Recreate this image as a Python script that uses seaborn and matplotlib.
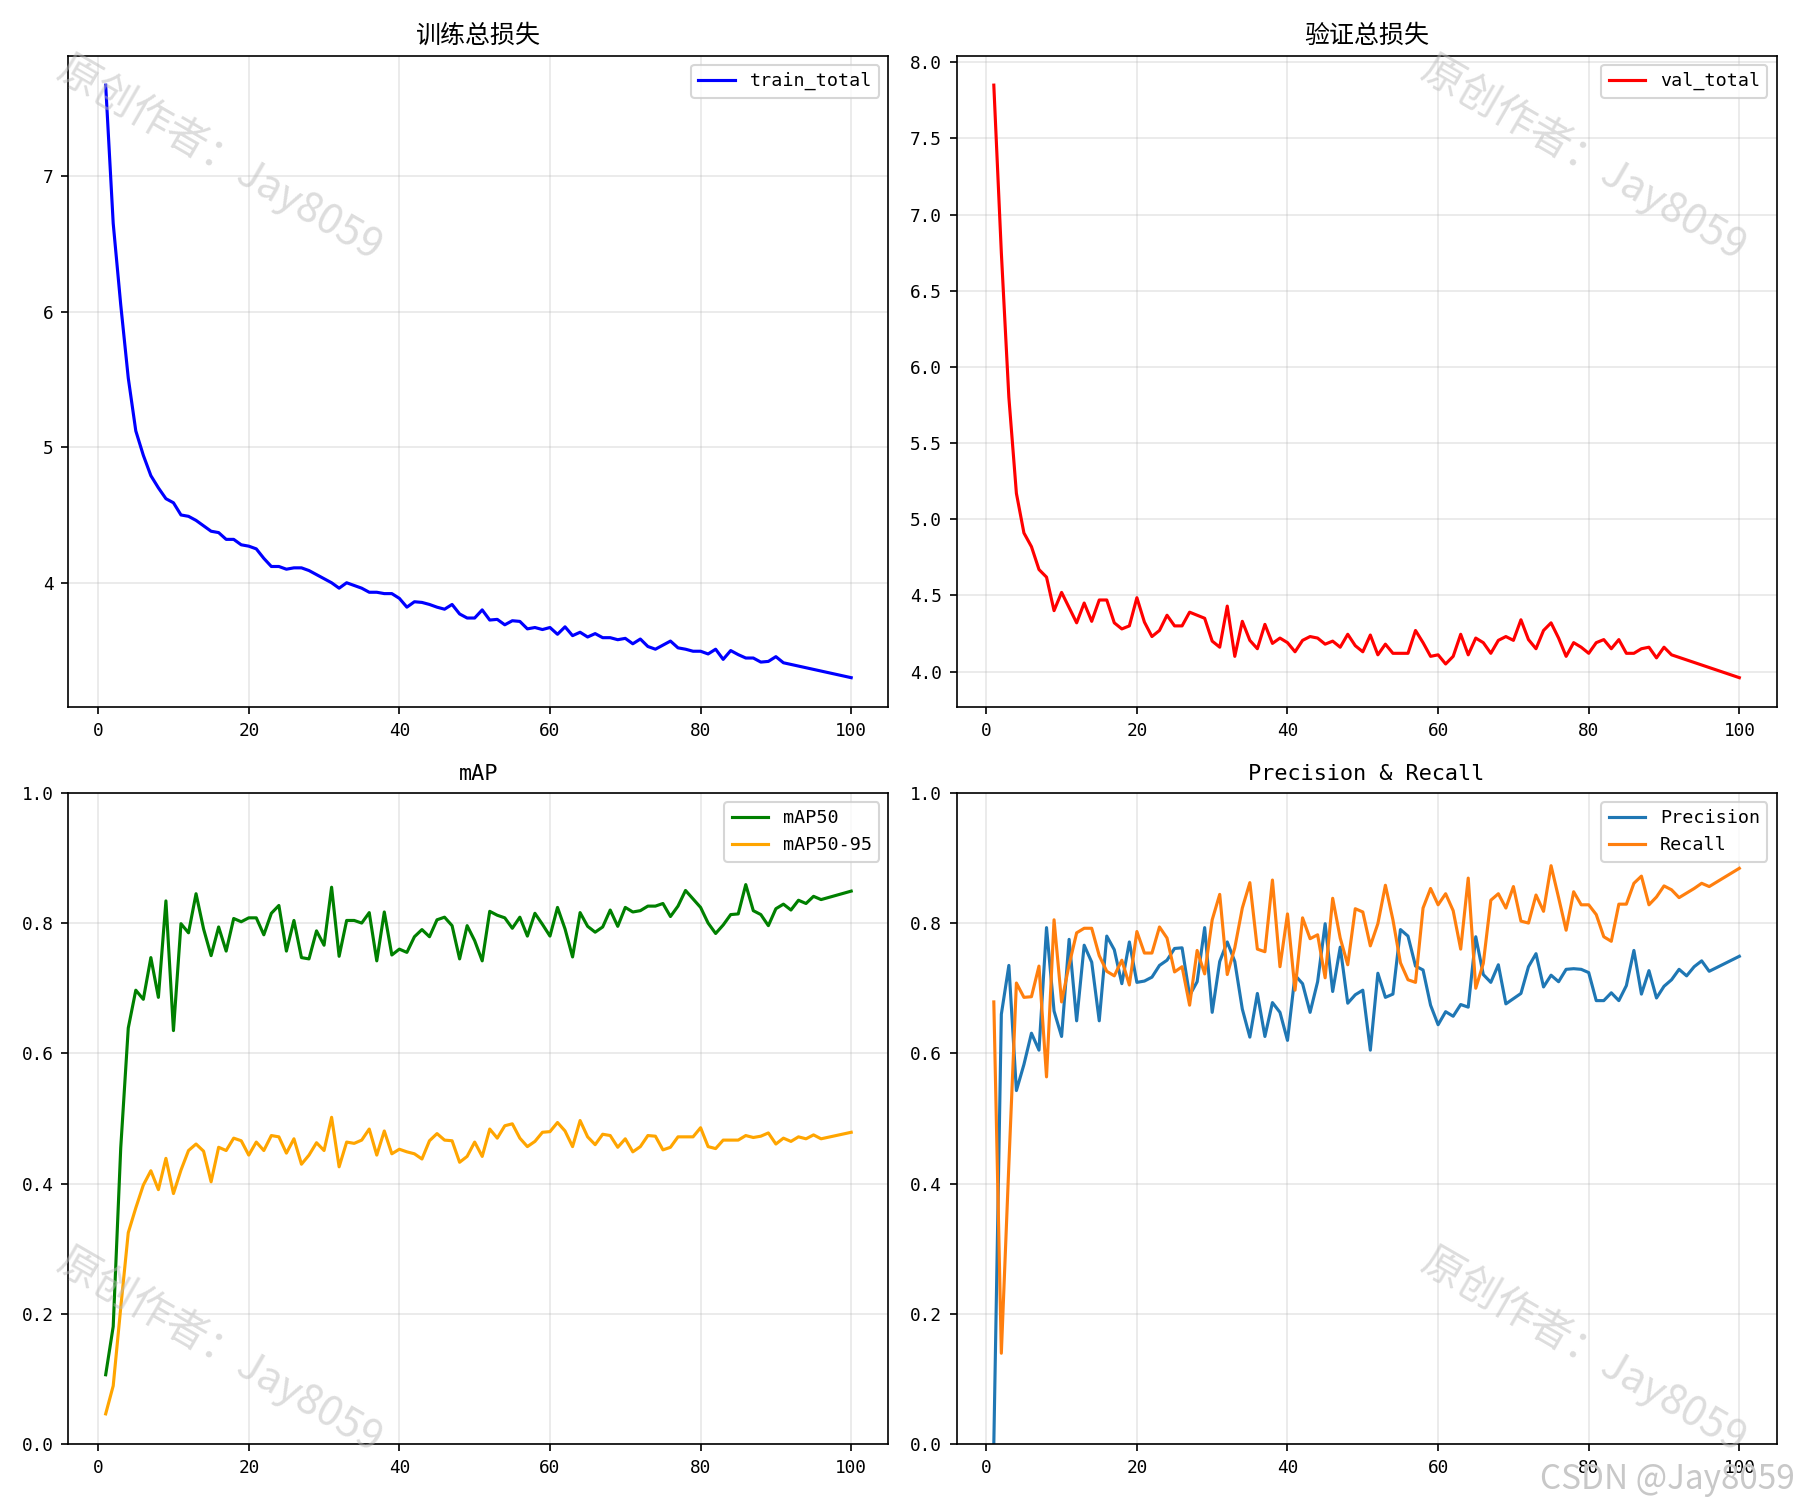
import matplotlib
matplotlib.use("Agg")
import matplotlib.pyplot as plt
import seaborn as sns

# == DATA ==
loss_epochs = list(range(1, 92)) + [100]
metric_epochs = list(range(1, 97)) + [100]

train_total = [
    7.67, 6.65, 6.05, 5.51, 5.12, 4.94, 4.79, 4.70, 4.62, 4.59,
    4.50, 4.49, 4.46, 4.42, 4.38, 4.37, 4.32, 4.32, 4.28, 4.27,
    4.25, 4.18, 4.12, 4.12, 4.10, 4.11, 4.11, 4.09, 4.06, 4.03,
    4.00, 3.96, 4.00, 3.98, 3.96, 3.93, 3.93, 3.92, 3.92, 3.885,
    3.82, 3.86, 3.855, 3.84, 3.82, 3.805, 3.84, 3.77, 3.74, 3.74,
    3.80, 3.725, 3.73, 3.69, 3.72, 3.715, 3.66, 3.67, 3.655, 3.67,
    3.62, 3.675, 3.61, 3.635, 3.60, 3.625, 3.595, 3.595, 3.58, 3.59,
    3.55, 3.585, 3.53, 3.51, 3.54, 3.57, 3.52, 3.51, 3.495, 3.495,
    3.475, 3.51, 3.435, 3.50, 3.47, 3.445, 3.445, 3.415, 3.42, 3.455,
    3.41, 3.30,
]

val_total = [
    7.85, 6.75, 5.80, 5.17, 4.91, 4.82, 4.67, 4.62, 4.40, 4.52,
    4.42, 4.32, 4.45, 4.33, 4.47, 4.47, 4.32, 4.28, 4.30, 4.485,
    4.325, 4.23, 4.27, 4.37, 4.30, 4.30, 4.39, 4.37, 4.35, 4.20,
    4.16, 4.43, 4.10, 4.33, 4.205, 4.15, 4.31, 4.185, 4.22, 4.19,
    4.13, 4.205, 4.23, 4.22, 4.18, 4.20, 4.16, 4.245, 4.17, 4.13,
    4.24, 4.11, 4.18, 4.12, 4.12, 4.12, 4.27, 4.19, 4.10, 4.11,
    4.05, 4.10, 4.245, 4.11, 4.22, 4.19, 4.12, 4.205, 4.23, 4.205,
    4.34, 4.21, 4.15, 4.27, 4.32, 4.22, 4.10, 4.19, 4.16, 4.12,
    4.19, 4.21, 4.15, 4.21, 4.12, 4.12, 4.15, 4.16, 4.09, 4.16,
    4.11, 3.96,
]

map50 = [
    0.107, 0.181, 0.455, 0.639, 0.697, 0.683, 0.747, 0.686, 0.834, 0.635,
    0.799, 0.785, 0.845, 0.791, 0.750, 0.794, 0.757, 0.807, 0.802, 0.808,
    0.808, 0.782, 0.815, 0.827, 0.757, 0.804, 0.747, 0.745, 0.788, 0.766,
    0.855, 0.749, 0.804, 0.804, 0.800, 0.816, 0.742, 0.817, 0.751, 0.760,
    0.755, 0.779, 0.790, 0.779, 0.805, 0.809, 0.796, 0.745, 0.796, 0.773,
    0.742, 0.818, 0.812, 0.808, 0.792, 0.809, 0.780, 0.815, 0.798, 0.780,
    0.824, 0.791, 0.748, 0.816, 0.795, 0.786, 0.794, 0.820, 0.795, 0.824,
    0.817, 0.819, 0.826, 0.826, 0.830, 0.810, 0.826, 0.850, 0.837, 0.824,
    0.800, 0.784, 0.797, 0.813, 0.814, 0.859, 0.819, 0.813, 0.796, 0.822,
    0.829, 0.820, 0.835, 0.830, 0.841, 0.836, 0.849,
]

map50_95 = [
    0.047, 0.090, 0.210, 0.325, 0.363, 0.398, 0.420, 0.391, 0.439, 0.385,
    0.421, 0.451, 0.461, 0.450, 0.403, 0.456, 0.451, 0.470, 0.466, 0.444,
    0.464, 0.451, 0.474, 0.472, 0.447, 0.469, 0.430, 0.444, 0.463, 0.451,
    0.502, 0.426, 0.464, 0.462, 0.467, 0.484, 0.444, 0.481, 0.446, 0.453,
    0.449, 0.446, 0.438, 0.466, 0.477, 0.467, 0.466, 0.433, 0.442, 0.464,
    0.442, 0.484, 0.470, 0.489, 0.492, 0.470, 0.457, 0.465, 0.479, 0.480,
    0.494, 0.481, 0.457, 0.497, 0.472, 0.460, 0.476, 0.474, 0.456, 0.469,
    0.449, 0.457, 0.474, 0.473, 0.452, 0.456, 0.472, 0.472, 0.472, 0.486,
    0.457, 0.454, 0.467, 0.467, 0.467, 0.474, 0.471, 0.473, 0.478, 0.461,
    0.470, 0.465, 0.472, 0.469, 0.475, 0.469, 0.479,
]

precision = [
    0.000, 0.660, 0.735, 0.543, 0.583, 0.631, 0.605, 0.793, 0.665, 0.626,
    0.775, 0.650, 0.766, 0.740, 0.650, 0.780, 0.759, 0.707, 0.771, 0.709,
    0.711, 0.717, 0.735, 0.743, 0.761, 0.762, 0.689, 0.710, 0.793, 0.663,
    0.741, 0.771, 0.741, 0.668, 0.625, 0.692, 0.626, 0.678, 0.663, 0.620,
    0.720, 0.707, 0.663, 0.710, 0.799, 0.695, 0.763, 0.677, 0.690, 0.697,
    0.605, 0.723, 0.686, 0.691, 0.790, 0.780, 0.734, 0.728, 0.674, 0.644,
    0.664, 0.657, 0.675, 0.671, 0.779, 0.721, 0.709, 0.736, 0.676, 0.684,
    0.692, 0.733, 0.753, 0.702, 0.720, 0.710, 0.729, 0.730, 0.729, 0.724,
    0.681, 0.681, 0.693, 0.681, 0.704, 0.758, 0.691, 0.727, 0.685, 0.703,
    0.713, 0.729, 0.719, 0.733, 0.742, 0.726, 0.749,
]

recall = [
    0.679, 0.140, 0.430, 0.708, 0.686, 0.687, 0.734, 0.564, 0.805, 0.679,
    0.736, 0.785, 0.792, 0.792, 0.750, 0.726, 0.719, 0.743, 0.705, 0.787,
    0.754, 0.754, 0.794, 0.777, 0.725, 0.733, 0.674, 0.758, 0.722, 0.805,
    0.844, 0.721, 0.762, 0.823, 0.862, 0.760, 0.756, 0.866, 0.733, 0.814,
    0.697, 0.808, 0.776, 0.782, 0.716, 0.838, 0.777, 0.736, 0.822, 0.817,
    0.765, 0.799, 0.858, 0.805, 0.739, 0.713, 0.709, 0.823, 0.853, 0.828,
    0.845, 0.819, 0.760, 0.869, 0.700, 0.738, 0.835, 0.845, 0.823, 0.856,
    0.803, 0.800, 0.843, 0.818, 0.888, 0.839, 0.789, 0.848, 0.828, 0.828,
    0.813, 0.779, 0.772, 0.829, 0.829, 0.861, 0.872, 0.828, 0.840, 0.857,
    0.851, 0.839, 0.846, 0.853, 0.861, 0.856, 0.884,
]

# fonts: monospaced latin like the original, CJK as fallback
plt.rcParams["font.family"] = ["DejaVu Sans Mono", "Noto Sans CJK SC"]
plt.rcParams["axes.unicode_minus"] = False
plt.rcParams["xtick.labelsize"] = 8.5
plt.rcParams["ytick.labelsize"] = 8.5
plt.rcParams["legend.fontsize"] = 8.8

fig, axes = plt.subplots(2, 2, figsize=(12, 10), dpi=150)
fig.subplots_adjust(left=0.038, right=0.987, top=0.963, bottom=0.037,
                    wspace=0.083, hspace=0.131)

cjk_title = dict(fontsize=12, family=["Noto Sans CJK SC", "DejaVu Sans"])
latin_title = dict(fontsize=10.5)

# train loss
ax = axes[0, 0]
sns.lineplot(x=loss_epochs, y=train_total, ax=ax, color="blue", label="train_total")
ax.set_title("训练总损失", **cjk_title)

# val loss
ax = axes[0, 1]
sns.lineplot(x=loss_epochs, y=val_total, ax=ax, color="red", label="val_total")
ax.set_title("验证总损失", **cjk_title)

# mAP
ax = axes[1, 0]
sns.lineplot(x=metric_epochs, y=map50, ax=ax, color="green", label="mAP50")
sns.lineplot(x=metric_epochs, y=map50_95, ax=ax, color="orange", label="mAP50-95")
ax.set_title("mAP", **latin_title)
ax.set_ylim(0, 1)

# precision / recall
ax = axes[1, 1]
sns.lineplot(x=metric_epochs, y=precision, ax=ax, color="#1f77b4", label="Precision")
sns.lineplot(x=metric_epochs, y=recall, ax=ax, color="#ff7f0e", label="Recall")
ax.set_title("Precision & Recall", **latin_title)
ax.set_ylim(0, 1)

for ax in axes.flat:
    ax.grid(True, alpha=0.3)
    ax.legend(loc="upper right")
    ax.set_xlabel("")
    ax.set_ylabel("")

# watermarks
wm = "原创作者：Jay8059"
for x, y in [(0.122, 0.895), (0.88, 0.895), (0.122, 0.10), (0.88, 0.10)]:
    fig.text(x, y, wm, fontsize=20, color="#bbbbbb", alpha=0.5,
             rotation=-30, ha="center", va="center",
             family=["Noto Sans CJK SC", "DejaVu Sans"])
fig.text(0.997, 0.002, "CSDN @Jay8059", fontsize=16, color="#c8c8c8",
         ha="right", va="bottom", family=["Noto Sans CJK SC", "DejaVu Sans"])

fig.savefig("out.png", dpi=150)
